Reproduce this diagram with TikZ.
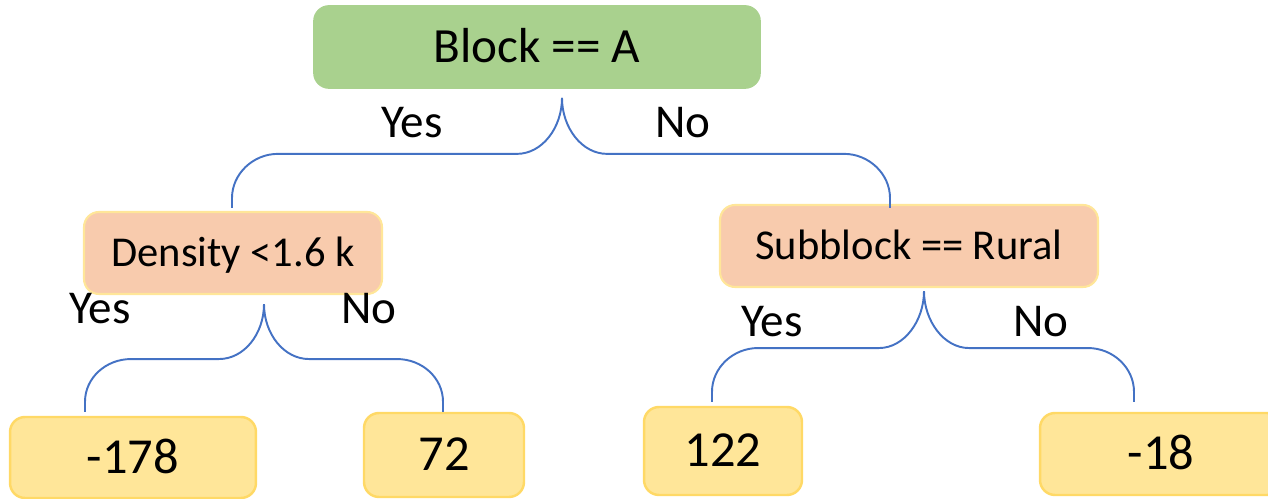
\documentclass[tikz,border=0pt]{standalone}
\usepackage{fontspec}
\setmainfont{Carlito}
\usetikzlibrary{calc}

\definecolor{rootgreen}{HTML}{A9D18E}
\definecolor{splitpeach}{HTML}{F8CBAD}
\definecolor{splitedge}{HTML}{FFE699}
\definecolor{leaffill}{HTML}{FFE699}
\definecolor{leafedge}{HTML}{FFD966}
\definecolor{linkblue}{HTML}{4472C4}

\newcommand\ptsize[1]{\fontsize{#1}{#1}\selectfont}

% one fork: stem top, fork level, branch end, side (-1 left, 1 right)
\newcommand\forkline[4]{%
  \draw[link] (#1) .. controls +(0,30) and +({-25*(#4)},0) .. ($(#2)+({45*(#4)},0)$)
    -- ($(#2 -| #3)+({-46*(#4)},0)$) .. controls +({25*(#4)},0) and +(0,-24) .. ($(#3)+(0,-10)$) -- (#3);}

\tikzset{
  box/.style={rounded corners=0.3cm, inner sep=0pt, text depth=0pt},
  rootbox/.style={box, fill=rootgreen, draw=rootgreen, line width=1pt, font=\ptsize{28}, text height=17.7pt},
  splitbox/.style={box, fill=splitpeach, draw=splitedge, line width=1.2pt, font=\ptsize{24.2}, text height=15.3pt},
  leafbox/.style={box, fill=leaffill, draw=leafedge, line width=1.4pt, font=\ptsize{28.7}, text height=18.1pt},
  answer/.style={inner sep=0pt, text depth=0pt, font=\ptsize{26.8}, text height=16.9pt},
  link/.style={draw=linkblue, line width=1.1pt}
}

\begin{document}
\begin{tikzpicture}[x=0.02cm, y=-0.02cm]
\useasboundingbox (0,0) rectangle (1268,499);

% decision nodes
\node[rootbox, minimum width=8.92cm, minimum height=1.64cm] (root) at (537,47) {Block == A};
\node[splitbox, minimum width=5.96cm, minimum height=1.64cm] (dens) at (233,253) {Density <1.6 k};
\node[splitbox, minimum width=7.56cm, minimum height=1.64cm] (sub) at (909,246) {Subblock == Rural};

% leaf values
\node[leafbox, minimum width=4.92cm, minimum height=1.62cm] (l1) at (133,457.5) {-178};
\node[leafbox, minimum width=3.2cm, minimum height=1.68cm] (l2) at (444,455) {72};
\node[leafbox, minimum width=3.16cm, minimum height=1.76cm] (l3) at (723,451) {122};
\node[leafbox, minimum width=4.84cm, minimum height=1.64cm] (l4) at (1161,454) {-18};

% branch labels
\node[answer] (rootyes) at (412,123) {Yes};
\node[answer] (rootno) at (683,123) {No};
\node[answer] (densyes) at (100,309) {Yes};
\node[answer] (densno) at (369,309) {No};
\node[answer] (subyes) at (772,322) {Yes};
\node[answer] (subno) at (1041,322) {No};

% stem tops, fork levels and branch ends
\coordinate (rt) at ($(root.south)+(25,9)$);
\coordinate (rm) at ($(rt)+(0,56)$);
\coordinate (ra) at (232,208);
\coordinate (rb) at (890,208);

\coordinate (dt) at ($(dens.south)+(31,9)$);
\coordinate (dm) at ($(dt)+(0,55)$);
\coordinate (da) at ($(l1.north)+(-48,-4)$);
\coordinate (db) at ($(l2.north)+(-1,0)$);

\coordinate (st) at ($(sub.south)+(15,3)$);
\coordinate (sm) at ($(st)+(0,57)$);
\coordinate (sa) at ($(l3.north)+(-11,-4)$);
\coordinate (sb) at ($(l4.north)+(-27,-10)$);

\forkline{rt}{rm}{ra}{-1}
\forkline{rt}{rm}{rb}{1}
\forkline{dt}{dm}{da}{-1}
\forkline{dt}{dm}{db}{1}
\forkline{st}{sm}{sa}{-1}
\forkline{st}{sm}{sb}{1}
\end{tikzpicture}
\end{document}
